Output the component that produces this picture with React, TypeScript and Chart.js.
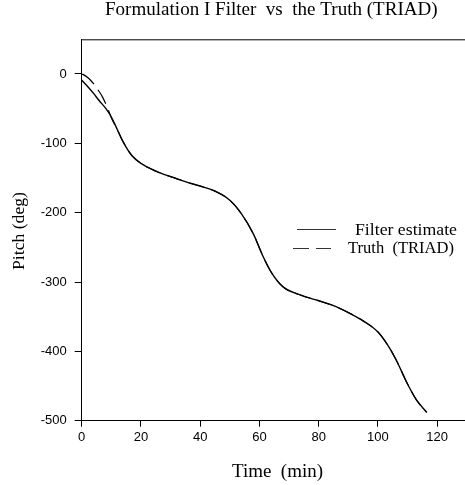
import React, { useEffect, useRef } from "react";
import { Chart, registerables } from "chart.js";

Chart.register(...registerables);

const TITLE = "Formulation I Filter  vs  the Truth (TRIAD)";
const X_TITLE = "Time  (min)";
const Y_TITLE = "Pitch (deg)";
const FILTER_LABEL = "Filter estimate";
const TRUTH_LABEL = "Truth  (TRIAD)";

const X_TICKS = [0, 20, 40, 60, 80, 100, 120];
const Y_TICKS = [0, -100, -200, -300, -400, -500];

const filterTime = [0, 2, 4, 6, 8, 10, 12, 14, 15.5, 17, 20, 25, 30, 37, 45, 50, 54, 58, 61, 64, 68, 74, 80, 85, 90, 95, 100, 103, 106, 110, 113, 116.5];
const filterPitch = [-9, -18, -28, -39, -49, -62, -80, -98, -109, -118, -129, -140, -148, -158, -169, -182, -202, -231, -261, -286, -307, -319, -327, -334, -344, -356, -372, -389, -411, -447, -470, -488];

const truthTime = [0, 1, 2, 3, 4, 5, 6, 7, 8, 9, 10, 12, 14, 15.5, 17, 20, 25, 30, 37, 45, 50, 54, 58, 61, 64, 68, 74, 80, 85, 90, 95, 100, 103, 106, 110, 113, 116.5];
const truthPitch = [0, -2, -5, -9, -14, -20, -26, -33, -42, -52, -63, -80, -98, -109, -118, -129, -140, -148, -158, -169, -182, -202, -231, -261, -286, -307, -319, -327, -334, -344, -356, -372, -389, -411, -447, -470, -488];

const SERIF = '"Liberation Serif", "Times New Roman", serif';
const SANS = '"Liberation Sans", Arial, sans-serif';

function fitText(
  ctx: CanvasRenderingContext2D,
  text: string,
  x: number,
  y: number,
  width: number,
  baseSize: number
) {
  ctx.save();
  ctx.font = `${baseSize}px ${SERIF}`;
  const w = ctx.measureText(text).width;
  const size = (baseSize * width) / w;
  ctx.font = `${size}px ${SERIF}`;
  ctx.fillStyle = "#000";
  ctx.textAlign = "left";
  ctx.textBaseline = "middle";
  ctx.fillText(text, x, y);
  ctx.restore();
}

const decorations = {
  id: "decorations",
  afterDraw(chart: any) {
    const ctx: CanvasRenderingContext2D = chart.ctx;
    const a = chart.chartArea;
    ctx.save();
    ctx.strokeStyle = "#000";
    ctx.lineWidth = 1;
    ctx.beginPath();
    ctx.moveTo(a.left, a.top + 0.5);
    ctx.lineTo(a.right, a.top + 0.5);
    ctx.stroke();
    ctx.restore();

    fitText(ctx, TITLE, 105, 10, 333, 16);
    fitText(ctx, X_TITLE, 232, 472, 91, 16);
    ctx.save();
    ctx.translate(19, 231);
    ctx.rotate(-Math.PI / 2);
    fitText(ctx, Y_TITLE, -39, 0, 78, 16);
    ctx.restore();

    const ds = chart.data.datasets;
    ctx.save();
    ctx.strokeStyle = "#333";
    ctx.lineWidth = 1;
    ctx.beginPath();
    ctx.moveTo(297, 229.5);
    ctx.lineTo(336, 229.5);
    ctx.stroke();
    ctx.setLineDash([16, 7]);
    ctx.beginPath();
    ctx.moveTo(293, 248.5);
    ctx.lineTo(331, 248.5);
    ctx.stroke();
    ctx.restore();
    fitText(ctx, ds[1].label, 355, 230, 102, 15);
    fitText(ctx, ds[0].label, 348, 249, 106, 15);
  },
};

export default function App() {
  const ref = useRef<HTMLCanvasElement | null>(null);

  useEffect(() => {
    document.body.style.margin = "0";
    const canvas = ref.current;
    if (!canvas) return;
    const chart = new Chart(canvas, {
      type: "line",
      data: {
        datasets: [
          {
            label: TRUTH_LABEL,
            data: truthTime.map((t, i) => ({ x: t, y: truthPitch[i] })),
            borderColor: "#000",
            borderWidth: 1.2,
            borderDash: [16, 7],
            pointRadius: 0,
            cubicInterpolationMode: "monotone",
            fill: false,
          },
          {
            label: FILTER_LABEL,
            data: filterTime.map((t, i) => ({ x: t, y: filterPitch[i] })),
            borderColor: "#000",
            borderWidth: 1.4,
            pointRadius: 0,
            cubicInterpolationMode: "monotone",
            fill: false,
          },
        ],
      },
      options: {
        responsive: false,
        animation: false,
        events: [],
        layout: { padding: { left: 0, right: 0, top: 39.3, bottom: 0 } },
        plugins: {
          legend: { display: false },
          title: { display: false },
          tooltip: { enabled: false },
        },
        scales: {
          x: {
            type: "linear",
            min: 0,
            max: 129.4,
            afterBuildTicks: (s: any) => {
              s.ticks = X_TICKS.map((v) => ({ value: v }));
            },
            afterFit: (s: any) => {
              s.height = 64.3;
            },
            grid: {
              display: true,
              drawOnChartArea: false,
              drawTicks: true,
              tickLength: 6,
              color: "#000",
            },
            border: { display: true, color: "#000", width: 1 },
            ticks: {
              color: "#000",
              padding: 3,
              maxRotation: 0,
              autoSkip: false,
              font: { family: SANS, size: 13 },
              callback: (v: any) => String(v),
            },
          },
          y: {
            type: "linear",
            min: -500,
            max: 50,
            afterBuildTicks: (s: any) => {
              s.ticks = Y_TICKS.map((v) => ({ value: v }));
            },
            afterFit: (s: any) => {
              s.width = 81.7;
            },
            grid: {
              display: true,
              drawOnChartArea: false,
              drawTicks: true,
              tickLength: 7,
              color: "#000",
            },
            border: { display: true, color: "#000", width: 1 },
            ticks: {
              color: "#000",
              padding: 8,
              autoSkip: false,
              font: { family: SANS, size: 13 },
              callback: (v: any) => String(v),
            },
          },
        },
      },
      plugins: [decorations],
    });
    return () => chart.destroy();
  }, []);

  return (
    <div style={{ width: 465, height: 485, background: "#fff" }}>
      <canvas ref={ref} width={465} height={485} style={{ display: "block" }} />
    </div>
  );
}
